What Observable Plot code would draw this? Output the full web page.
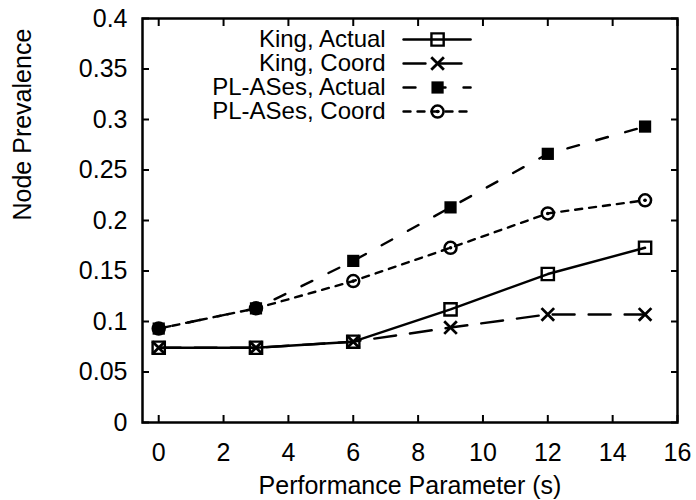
<!DOCTYPE html>
<html>
<head>
<meta charset="utf-8">
<script src="https://cdn.jsdelivr.net/npm/d3@7"></script>
<script src="https://cdn.jsdelivr.net/npm/@observablehq/plot@0.6"></script>
<style>
  html, body { margin: 0; padding: 0; background: white; }
  #chart { width: 696px; height: 500px; }
</style>
</head>
<body>
<div id="chart"></div>
<script>
// ---- data ----
const xValues = [0, 3, 6, 9, 12, 15];
const kingActual = [0.074, 0.074, 0.080, 0.112, 0.147, 0.173];
const kingCoord = [0.074, 0.074, 0.080, 0.094, 0.107, 0.107];
const plActual = [0.093, 0.113, 0.160, 0.213, 0.266, 0.293];
const plCoord = [0.093, 0.113, 0.140, 0.173, 0.207, 0.220];
const seriesNames = ["King, Actual", "King, Coord", "PL-ASes, Actual", "PL-ASes, Coord"];
const xTicks = [0, 2, 4, 6, 8, 10, 12, 14, 16];
const yTicks = [0, 0.05, 0.1, 0.15, 0.2, 0.25, 0.3, 0.35, 0.4];
const yTickLabels = ["0", "0.05", "0.1", "0.15", "0.2", "0.25", "0.3", "0.35", "0.4"];
const xLabel = "Performance Parameter (s)";
const yLabel = "Node Prevalence";

// ---- styles (not data) ----
const seriesValues = [kingActual, kingCoord, plActual, plCoord];
const dashes = [null, "22,14", "12,18", "7,7"];
const font = "'Liberation Sans', Arial, Helvetica, sans-serif";
const fs = 25;
const legendFs = 24;

// legend placement in data units
const legendTextX = 7.0;
const legendLineX = [7.55, 9.62];
const legendMarkX = 8.6;
const legendY = [0.3792, 0.3554, 0.3317, 0.3079];

const series = seriesNames.map((name, i) => xValues.map((x, j) => ({name, x, y: seriesValues[i][j]})));
const legendRows = seriesNames.map((name, i) => ({name, i, y: legendY[i]}));
const legendLines = seriesNames.map((name, i) => legendLineX.map(x => ({x, y: legendY[i]})));

function markers(data, i) {
  const base = {x: "x", y: "y"};
  if (i === 0) return [Plot.dot(data, {...base, symbol: "square", r: 6.9, fill: "none", stroke: "black", strokeWidth: 2.4})];
  if (i === 1) return [Plot.dot(data, {...base, symbol: "times", r: 5.8, stroke: "black", strokeWidth: 2.8})];
  if (i === 2) return [Plot.dot(data, {...base, symbol: "square", r: 6.9, fill: "black", stroke: "none"})];
  return [
    Plot.dot(data, {...base, symbol: "circle", r: 6.0, fill: "none", stroke: "black", strokeWidth: 2.5}),
    Plot.dot(data, {...base, symbol: "circle", r: 1.8, fill: "black", stroke: "none"})
  ];
}

const marks = [];
// axes with inward ticks on all sides
marks.push(Plot.axisX({anchor: "bottom", ticks: xTicks, tickSize: -7, tickPadding: 28, strokeWidth: 2, fontSize: fs, label: null}));
marks.push(Plot.axisX({anchor: "top", ticks: xTicks, tickSize: -7, tickFormat: () => "", strokeWidth: 2, label: null}));
marks.push(Plot.axisY({anchor: "left", ticks: yTicks, tickSize: -7, tickPadding: 22, strokeWidth: 2, fontSize: fs, label: null,
  tickFormat: (d) => yTickLabels[yTicks.findIndex(t => Math.abs(t - d) < 1e-9)]}));
marks.push(Plot.axisY({anchor: "right", ticks: yTicks, tickSize: -7, tickFormat: () => "", strokeWidth: 2, label: null}));
marks.push(Plot.frame({stroke: "black", strokeWidth: 2.5}));

// series
series.forEach((data, i) => {
  marks.push(Plot.line(data, {x: "x", y: "y", stroke: "black", strokeWidth: 2.4, strokeDasharray: dashes[i]}));
  marks.push(...markers(data, i));
});

// legend
marks.push(Plot.text(legendRows, {x: () => legendTextX, y: "y", text: "name", textAnchor: "end", fontSize: legendFs, fill: "black"}));
legendLines.forEach((data, i) => {
  marks.push(Plot.line(data, {x: "x", y: "y", stroke: "black", strokeWidth: 2.4, strokeDasharray: dashes[i]}));
  marks.push(...markers([{x: legendMarkX, y: legendY[i]}], i));
});

// axis titles
marks.push(Plot.text([yLabel], {frameAnchor: "left", dx: -120, rotate: -90, fontSize: fs, fill: "black"}));
marks.push(Plot.text([xLabel], {frameAnchor: "bottom", dy: 71, fontSize: fs, fill: "black"}));

const chart = Plot.plot({
  width: 696,
  height: 500,
  marginLeft: 142,
  marginRight: 19,
  marginTop: 18,
  marginBottom: 78,
  style: {fontFamily: font, fontSize: fs + "px", color: "black", background: "white"},
  x: {domain: [-0.5, 16], axis: null},
  y: {domain: [0, 0.4], axis: null},
  marks
});
document.getElementById("chart").appendChild(chart);
</script>
</body>
</html>
